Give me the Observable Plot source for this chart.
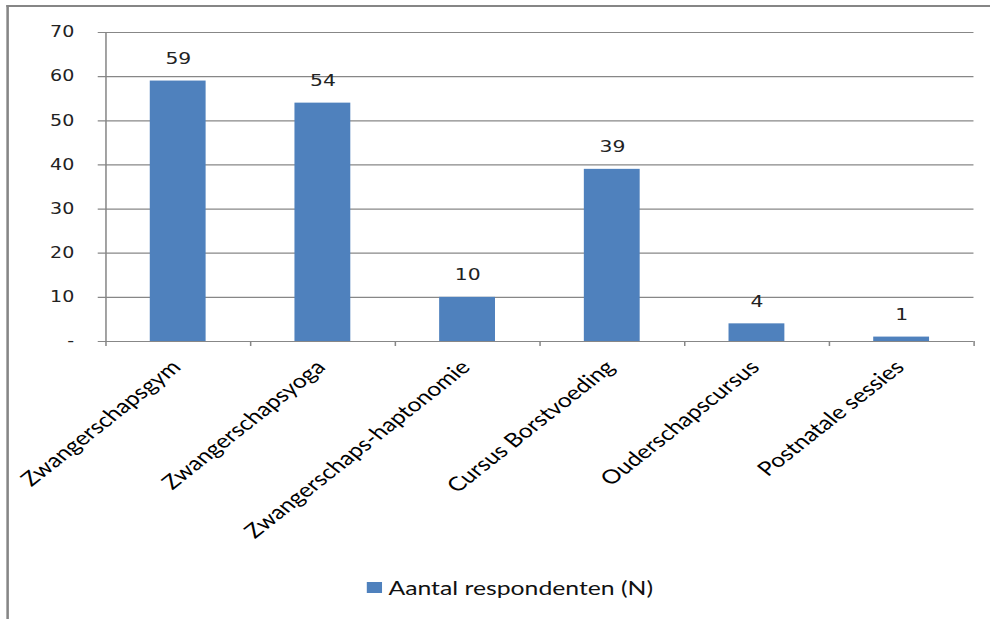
<!DOCTYPE html>
<html><head><meta charset="utf-8">
<script src="https://cdn.jsdelivr.net/npm/d3@7"></script>
<script src="https://cdn.jsdelivr.net/npm/@observablehq/plot@0.6"></script>
<style>
html,body{margin:0;padding:0;background:#fff;overflow:hidden;}
#wrap{position:relative;width:780px;height:619px;transform:scaleX(1.2692);transform-origin:0 0;}
#frame{position:absolute;left:4.7px;top:4.5px;width:900px;height:700px;border-left:2px solid #868686;border-top:2px solid #868686;z-index:2;pointer-events:none;}
#chart{position:absolute;left:0;top:0;z-index:1;}
#legend{position:absolute;left:289px;top:576px;display:flex;align-items:center;font-family:Lato,sans-serif;font-size:19.5px;color:#111;z-index:1;}
#legend .sw{display:inline-block;width:11.5px;height:11px;background:#4F81BD;margin-right:5.5px;}
</style></head><body>
<div id="wrap"><div id="frame"></div><div id="chart"></div><div id="legend"><span class="sw"></span><span id="legtext"></span></div></div>
<script>
const categories = ["Zwangerschapsgym","Zwangerschapsyoga","Zwangerschaps-haptonomie","Cursus Borstvoeding","Ouderschapscursus","Postnatale sessies"];
const values = [59, 54, 10, 39, 4, 1];
const yTicks = [0, 10, 20, 30, 40, 50, 60, 70];
const seriesName = "Aantal respondenten (N)";
const barColor = "#4F81BD";

const data = categories.map((c, i) => ({category: c, value: values[i]}));
const W = 780, H = 560, mL = 83, mR = 13, mT = 32, mB = 219;
const step = (W - mL - mR) / categories.length;
const gridColor = "#878787";

document.getElementById("legtext").textContent = seriesName;

const chart = Plot.plot({
  width: W, height: H,
  marginLeft: mL, marginRight: mR, marginTop: mT, marginBottom: mB,
  style: {color: "#222", background: "transparent"},
  x: {domain: categories, axis: null, paddingInner: 0.614, paddingOuter: 0.307},
  y: {domain: [0, d3.max(yTicks)], axis: null, label: null},
  marks: [
    Plot.ruleY(yTicks, {stroke: gridColor, strokeWidth: 1.2, insetLeft: -6}),
    Plot.ruleX([categories[0]], {x: d => d, dx: -step / 2, y1: () => 0, y2: () => d3.max(yTicks), insetTop: 5, stroke: gridColor, strokeWidth: 1.2}),
    Plot.ruleX(categories.slice(1), {x: d => d, dx: -step / 2, y1: () => 0, y2: () => 0, insetTop: 5, stroke: gridColor, strokeWidth: 1.2}),
    Plot.ruleX([categories[categories.length - 1]], {x: d => d, dx: step / 2, y1: () => 0, y2: () => 0, insetTop: 5, stroke: gridColor, strokeWidth: 1.2}),
    Plot.barY(data, {x: "category", y: "value", fill: barColor}),
    Plot.text(data, {x: "category", y: "value", text: d => String(d.value), dy: -22, fontFamily: "DejaVu Sans", fontSize: 16, fill: "#222"}),
    Plot.text(categories, {x: d => d, frameAnchor: "bottom", rotate: -45, textAnchor: "end", dx: 3, dy: 27, fontFamily: "Lato", fontSize: 19.5, fill: "#000"}),
    Plot.axisY(yTicks, {label: null, tickSize: 0, tickPadding: 25, tickFormat: d => d === 0 ? "-" : String(d), fontFamily: "DejaVu Sans", fontSize: 15})
  ]
});
document.getElementById("chart").appendChild(chart);
</script>
</body></html>
